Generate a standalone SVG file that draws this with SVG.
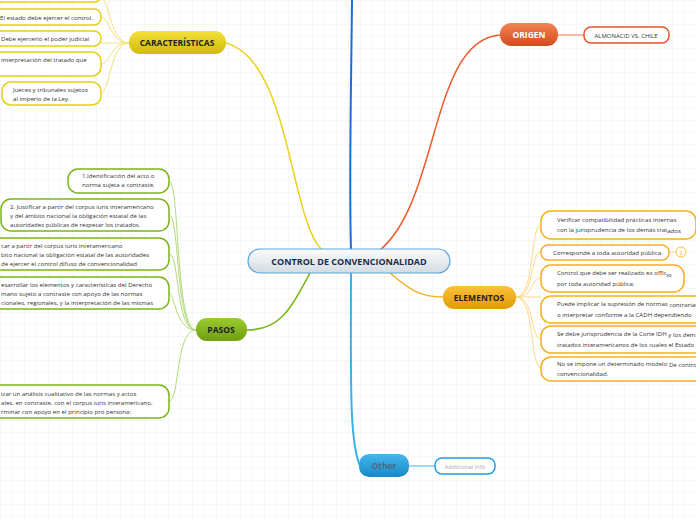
<svg xmlns="http://www.w3.org/2000/svg" width="696" height="520" viewBox="0 0 696 520">
<defs>
<pattern id="grid" width="12" height="12" patternUnits="userSpaceOnUse"><path d="M12 0H0V12" fill="none" stroke="#f0f0f0" stroke-width="1"/></pattern>
<linearGradient id="gc" x1="0" y1="0" x2="0" y2="1"><stop offset="0" stop-color="#fbfcfd"/><stop offset="1" stop-color="#d3dbe2"/></linearGradient>
<linearGradient id="gy" x1="0" y1="0" x2="0" y2="1"><stop offset="0" stop-color="#f3e23a"/><stop offset="1" stop-color="#d2b90c"/></linearGradient>
<linearGradient id="go" x1="0" y1="0" x2="0" y2="1"><stop offset="0" stop-color="#f38455"/><stop offset="1" stop-color="#d34a1c"/></linearGradient>
<linearGradient id="gg" x1="0" y1="0" x2="0" y2="1"><stop offset="0" stop-color="#9ccb2e"/><stop offset="1" stop-color="#6e9e12"/></linearGradient>
<linearGradient id="ga" x1="0" y1="0" x2="0" y2="1"><stop offset="0" stop-color="#fbc23a"/><stop offset="1" stop-color="#e09a06"/></linearGradient>
<linearGradient id="gb" x1="0" y1="0" x2="0" y2="1"><stop offset="0" stop-color="#46b6ec"/><stop offset="1" stop-color="#1689c8"/></linearGradient>
</defs>
<style>
text{font-family:"Open Sans","DejaVu Sans",sans-serif;font-size:6.1px;fill:#333}
.t{font-size:8.5px;font-weight:bold;fill:#222;text-anchor:middle}
.leaf{fill:#fff;stroke-width:1.5}
.y{stroke:#e6cf10}.g{stroke:#7cb518}.a{stroke:#f5b01c}.o{stroke:#e5532a}.b{stroke:#1ea1e3}
.c{fill:none}
</style>
<rect width="696" height="520" fill="#fff"/>
<rect width="696" height="520" fill="url(#grid)"/>
<g id="connectors" class="c">
<path d="M352 0 C351 100 349 180 351 250" stroke="#1a6fd6" stroke-width="2"/>
<path d="M351 272 C351 380 349 440 360 466" stroke="#3bb0ee" stroke-width="2"/>
<path d="M409 466 H435" stroke="#9fd6f4" stroke-width="2"/>
<path d="M322 250 C290 220 290 60 226 43" stroke="#e8d21a" stroke-width="1.5"/>
<path d="M380 250 C440 200 430 40 500 35" stroke="#ef5b2c" stroke-width="1.5"/>
<path d="M558 35 H584" stroke="#f4a58a" stroke-width="1.5"/>
<path d="M310 273 C290 310 280 330 247 330" stroke="#7cb518" stroke-width="1.5"/>
<path d="M390 273 C410 290 420 297 443 297" stroke="#f5b01c" stroke-width="1.5"/>
<g stroke="#f0e27a" stroke-width="1">
<path d="M129 43 C110 43 110 0 101 -2"/><path d="M129 43 C110 43 110 17 101 17"/><path d="M129 43 H101"/><path d="M129 43 C110 43 110 64 101 64"/><path d="M129 43 C110 43 110 93 101 93"/>
</g>
<g stroke="#b3d97a" stroke-width="1">
<path d="M196 330 C175 330 180 181 169 181"/><path d="M196 330 C175 330 180 215 169 215"/><path d="M196 330 C175 330 180 254 169 254"/><path d="M196 330 C175 330 175 293 169 293"/><path d="M196 330 C175 330 180 401 169 401"/>
</g>
<g stroke="#fcd98a" stroke-width="1">
<path d="M516 297 C535 297 530 225 541 225"/><path d="M516 297 C535 297 530 252 541 252"/><path d="M516 297 C535 297 530 278 541 278"/><path d="M516 297 H541"/><path d="M516 297 C535 297 530 339 541 339"/><path d="M516 297 C535 297 530 368 541 368"/>
<path d="M669 252 H676"/>
</g>
</g>
<g id="center"><rect x="248" y="249" width="202" height="24" rx="12" fill="url(#gc)" stroke="#5aa6dc" stroke-width="1.2"/><text x="349" y="265" class="t" style="font-size:9px;fill:#1d2b4a">CONTROL DE CONVENCIONALIDAD</text></g>
<g id="origen"><rect x="500" y="23" width="58" height="23" rx="11" fill="url(#go)"/><text x="529" y="38" class="t" style="fill:#fff">ORIGEN</text></g>
<g id="almonacid"><rect x="584" y="27" width="85" height="16" rx="7" class="leaf o"/><text x="626" y="38" text-anchor="middle" style="font-size:6px">ALMONACID VS. CHILE</text></g>
<g id="caracteristicas"><rect x="129" y="31" width="97" height="23" rx="11" fill="url(#gy)"/><text x="177" y="46" class="t">CARACTERÍSTICAS</text></g>
<g id="c0"><rect x="-10" y="-12" width="111" height="14" rx="7" class="leaf y"/></g>
<g id="c1"><rect x="-10" y="9" width="111" height="16" rx="7" class="leaf y"/><text x="0" y="20">El estado debe ejercer el control.</text></g>
<g id="c2"><rect x="-10" y="31" width="111" height="15" rx="7" class="leaf y"/><text x="1" y="41">Debe ejercerlo el poder judicial</text></g>
<g id="c3"><rect x="-10" y="52" width="111" height="24" rx="9" class="leaf y"/><text x="1" y="62">interpretación del tratado que</text></g>
<g id="c4"><rect x="2" y="82" width="99" height="23" rx="9" class="leaf y"/><text x="13" y="92">Jueces y tribunales sujetos</text><text x="13" y="101">al imperio de la Ley.</text></g>
<g id="pasos"><rect x="196" y="318" width="51" height="23" rx="11" fill="url(#gg)"/><text x="221" y="333" class="t">PASOS</text></g>
<g id="p1"><rect x="68" y="169" width="101" height="24" rx="10" class="leaf g"/><text x="82" y="178">1.Identificación del acto o</text><text x="82" y="187">norma sujeta a contraste.</text></g>
<g id="p2"><rect x="1" y="199" width="168" height="32" rx="10" class="leaf g"/><text x="10" y="209">2. Justificar a partir del corpus iuris interamericano</text><text x="10" y="218">y del ámbito nacional la obligación estatal de las</text><text x="10" y="227">autoridades  públicas de respetar los tratados.</text></g>
<g id="p3"><rect x="-20" y="238" width="189" height="32" rx="10" class="leaf g"/><text x="1" y="248">car a partir del corpus iuris interamericano</text><text x="1" y="257">bito nacional  la obligación  estatal de las autoridades</text><text x="1" y="266">de ejercer el control difuso de convencionalidad</text></g>
<g id="p4"><rect x="-20" y="277" width="189" height="32" rx="10" class="leaf g"/><text x="1" y="287">esarrollar los elementos y características del Derecho</text><text x="1" y="296">mano sujeto a contraste con apoyo de las normas</text><text x="1" y="305">cionales, regionales, y la interpretación de las mismas</text></g>
<g id="p5"><rect x="-20" y="385" width="189" height="33" rx="10" class="leaf g"/><text x="1" y="396">izar un análisis cualitativo de las normas y  actos</text><text x="1" y="405">ales, en contraste, con el corpus iuris interamericano,</text><text x="1" y="414">rminar con apoyo en el principio pro persona:</text></g>
<g id="elementos"><rect x="443" y="286" width="73" height="23" rx="11" fill="url(#ga)"/><text x="479" y="301" class="t">ELEMENTOS</text></g>
<g id="e1"><rect x="541" y="211" width="155" height="28" rx="10" class="leaf a"/><text x="557" y="222">Verificar  compatibilidad prácticas internas</text><text x="557" y="232">con la jurisprudencia de los demás trat<tspan dy="1">ados</tspan></text></g>
<g id="e2"><rect x="541" y="245" width="128" height="15" rx="7" class="leaf a"/><text x="553" y="255">Corresponde a toda autoridad pública.</text></g>
<g id="badge"><circle cx="681" cy="252" r="5" fill="#fff" stroke="#f5c040" stroke-width="1"/><text x="681" y="254.5" text-anchor="middle" style="font-size:6px;fill:#f5b01c">2</text></g>
<g id="e3"><rect x="541" y="265" width="143" height="27" rx="10" class="leaf a"/><text x="557" y="275">Control que debe ser realizado ex offic<tspan dy="2">io</tspan></text><text x="557" y="286">por toda autoridad pública.</text></g>
<g id="e4"><rect x="541" y="296" width="165" height="27" rx="10" class="leaf a"/><text x="557" y="306">Puede implicar la supresión de normas <tspan dy="1">contrarias</tspan></text><text x="557" y="317">o interpretar conforme a la CADH dependiendo</text></g>
<g id="e5"><rect x="541" y="326" width="165" height="27" rx="10" class="leaf a"/><text x="557" y="336">Se debe jurisprudencia de la Corte IDH <tspan dy="1">y los demás</tspan></text><text x="557" y="347">tratados interamericanos de los cuales el Estado sea</text></g>
<g id="e6"><rect x="541" y="357" width="165" height="24" rx="10" class="leaf a"/><text x="557" y="366">No se impone un determinado modelo <tspan dy="1">De control</tspan></text><text x="557" y="376">convencionalidad.</text></g>
<g id="other"><rect x="359" y="454" width="50" height="23" rx="10" fill="url(#gb)"/><text x="384" y="469" class="t" style="fill:#4a6a80">Other</text></g>
<g id="info"><rect x="435" y="458" width="60" height="16" rx="7" class="leaf b"/><text x="465" y="468.5" text-anchor="middle" style="font-size:6px;fill:#aaa">Additional info</text></g>
</svg>
